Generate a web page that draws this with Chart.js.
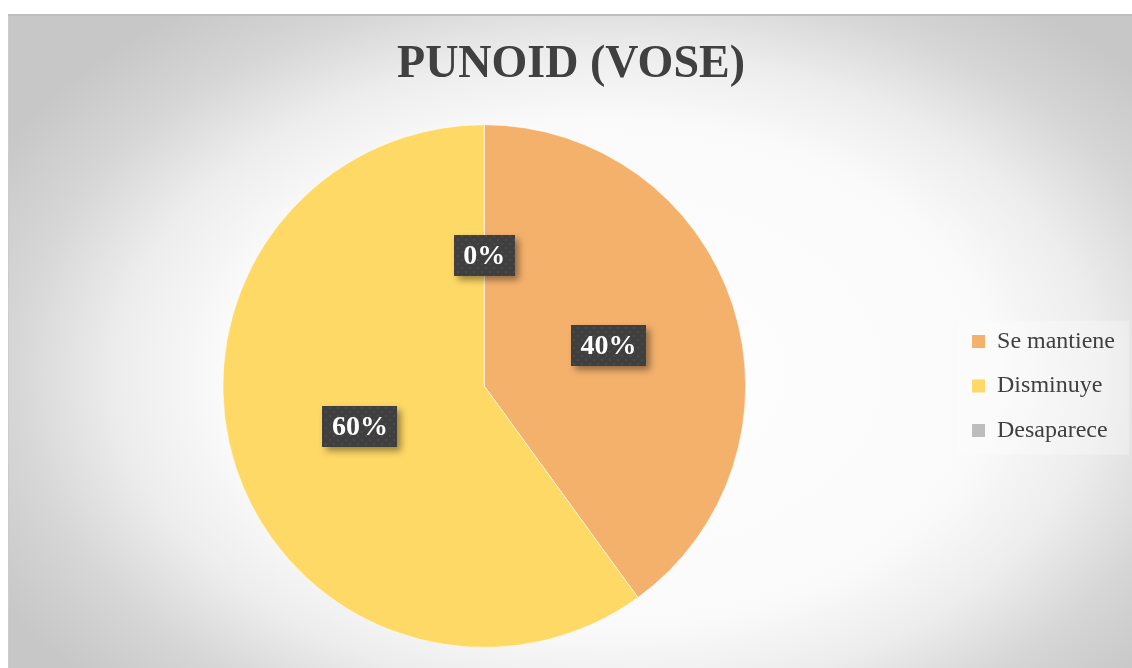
<!DOCTYPE html>
<html>
<head>
<meta charset="utf-8">
<script src="https://cdn.jsdelivr.net/npm/chart.js@4.4.1/dist/chart.umd.min.js"></script>
<style>
  html, body { margin: 0; padding: 0; background: #fff; }
  #marco {
    position: absolute; left: 8px; top: 14px; width: 1124px; height: 654px;
    background: radial-gradient(ellipse 700px 460px at 600px 360px, #ffffff 0%, #fafafa 55%, #ededed 70%, #d6d6d6 85%, #c7c7c7 100%);
    box-shadow: inset 0 2px 0 #bdbdbd, inset 1px 0 0 #cccccc;
  }
</style>
</head>
<body>
<div id="marco"><canvas id="grafico"></canvas></div>
<script>
// datos del gráfico
const categorias = ['Se mantiene', 'Disminuye', 'Desaparece'];
const porcentajes = [40, 60, 0];
const colores = ['#F4B16C', '#FFD966', '#BDBDBD'];

// patrón punteado para el fondo de las etiquetas
function patronEtiqueta(ctx) {
    const c = document.createElement('canvas');
    c.width = 8; c.height = 8;
    const p = c.getContext('2d');
    p.fillStyle = '#3f3f3f';
    p.fillRect(0, 0, 8, 8);
    p.fillStyle = '#4a4a4a';
    p.fillRect(1, 1, 2, 2);
    p.fillRect(5, 5, 2, 2);
    return ctx.createPattern(c, 'repeat');
}

// la leyenda ocupa solo la altura del área del gráfico
const leyendaCentrada = {
    id: 'leyendaCentrada',
    afterLayout(chart) {
        if (chart.legend) chart.legend.top = chart.chartArea.top;
    }
};

// recuadro claro detrás de la leyenda
const fondoLeyenda = {
    id: 'fondoLeyenda',
    beforeDraw(chart) {
        const lg = chart.legend;
        if (!lg || !lg.columnSizes) return;
        const pad = lg.options.labels.padding;
        const col = lg.columnSizes[0];
        const x = lg.left + pad;
        const y = (lg.top + pad + lg.bottom - col.height) / 2;
        const ctx = chart.ctx;
        ctx.save();
        ctx.fillStyle = 'rgba(255,255,255,0.3)';
        ctx.fillRect(x - 14, y - 9, col.width + 28, col.height - pad + 21);
        ctx.restore();
    }
};

// etiquetas de porcentaje en cajas oscuras
const etiquetas = {
    id: 'etiquetas',
    afterDatasetsDraw(chart) {
        const ctx = chart.ctx;
        const meta = chart.getDatasetMeta(0);
        const fondo = patronEtiqueta(ctx);
        ctx.save();
        ctx.font = 'bold 28px "Liberation Serif"';
        ctx.textAlign = 'center';
        ctx.textBaseline = 'middle';
        meta.data.forEach((arc, i) => {
            const p = arc.getProps(['x', 'y', 'startAngle', 'endAngle', 'outerRadius'], true);
            const medio = (p.startAngle + p.endAngle) / 2;
            const cx = p.x + Math.cos(medio) * p.outerRadius * 0.5;
            const cy = p.y + Math.sin(medio) * p.outerRadius * 0.5;
            const texto = porcentajes[i] + '%';
            const w = ctx.measureText(texto).width + 19;
            const h = 41;
            ctx.save();
            ctx.shadowColor = 'rgba(0,0,0,0.4)';
            ctx.shadowBlur = 7;
            ctx.shadowOffsetX = 4;
            ctx.shadowOffsetY = 4;
            ctx.fillStyle = fondo;
            ctx.fillRect(Math.round(cx - w / 2), Math.round(cy - h / 2), Math.round(w), h);
            ctx.restore();
            ctx.fillStyle = '#ffffff';
            ctx.fillText(texto, cx, cy + 1);
        });
        ctx.restore();
    }
};

const etiquetasLeyenda = Chart.overrides.doughnut.plugins.legend.labels.generateLabels;

new Chart(document.getElementById('grafico'), {
    type: 'pie',
    data: {
        labels: categorias,
        datasets: [{
            data: porcentajes,
            backgroundColor: colores,
            borderColor: 'rgba(255,255,255,0.6)',
            borderWidth: 1,
            hoverOffset: 0
        }]
    },
    options: {
        responsive: true,
        maintainAspectRatio: false,
        animation: false,
        layout: {
            autoPadding: false,
            padding: { left: 9, right: 7, top: 0, bottom: 20 }
        },
        plugins: {
            title: {
                display: true,
                text: 'PUNOID (VOSE)',
                color: '#404040',
                font: { family: 'Liberation Serif', size: 46, weight: 'bold' },
                padding: { top: 24, bottom: 31 }
            },
            legend: {
                position: 'right',
                labels: {
                    boxWidth: 13,
                    boxHeight: 13,
                    padding: 20.5,
                    color: '#404040',
                    font: { family: 'Liberation Serif', size: 24 },
                    generateLabels(chart) {
                        return etiquetasLeyenda(chart).map(l => Object.assign(l, { lineWidth: 0 }));
                    }
                }
            },
            tooltip: { enabled: false }
        }
    },
    plugins: [leyendaCentrada, fondoLeyenda, etiquetas]
});
</script>
</body>
</html>
